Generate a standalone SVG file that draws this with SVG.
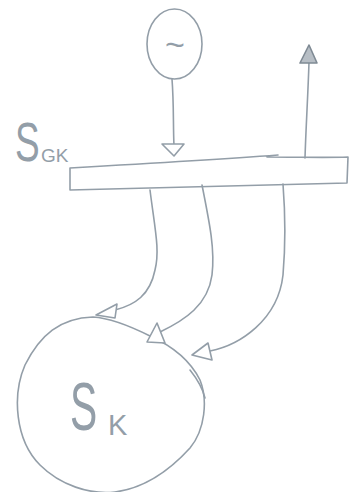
<svg xmlns="http://www.w3.org/2000/svg" width="360" height="492" viewBox="0 0 360 492">
<style>
.p{fill:none;stroke:#939ea8;stroke-width:1.6;stroke-linecap:round;stroke-linejoin:round}
.h{fill:#fff;stroke:#939ea8;stroke-width:1.6;stroke-linejoin:round}
.t{fill:#939ea8;font-family:"Liberation Sans",Arial,sans-serif}
</style>
<rect width="360" height="492" fill="#fff"/>
<g id="source">
<ellipse class="p" cx="174.5" cy="44" rx="27.5" ry="35"/>
<text class="t" x="175" y="56" font-size="34" text-anchor="middle">~</text>
</g>
<g id="sgk">
<path class="p" d="M70,168 C140,164 210,160 278,155 M267,157 C300,157 325,158 348,157 L347,183 C260,185 170,188 70,190 L70,168"/>
<text class="t" x="15" y="161" font-size="56" transform="translate(15 0) scale(0.66 1) translate(-15 0)">S</text>
<text class="t" x="41" y="162" font-size="19">GK</text>
</g>
<g id="sk">
<path class="p" d="M93,317 C60,318 40,335 25,365 C12,395 15,440 40,465 C60,485 90,495 115,492 C145,488 170,470 190,448 C205,430 208,400 200,380 C190,360 170,345 150,336 C130,326 110,318 93,317 Z"/>
<path class="p" d="M190,370 C198,380 203,390 205,398"/>
<text class="t" x="70" y="430" font-size="68" transform="translate(70 0) scale(0.6 1) translate(-70 0)">S</text>
<text class="t" x="108" y="435" font-size="29">K</text>
</g>
<g id="connectors">
<path class="p" d="M172,79 C174,105 173,125 174,146"/>
<polygon class="h" points="162,144 184,144 174,156"/>
<path class="p" d="M305,158 C306,125 308,95 309,62"/>
<polygon points="300,63 317,63 309,45" fill="#b7bec5" stroke="#7f8a94" stroke-width="1.6" stroke-linejoin="round"/>
<path class="p" d="M150,190 C155,230 160,250 155,270 C150,295 135,305 115,310"/>
<polygon class="h" points="96,315 117,304 115,318"/>
<path class="p" d="M202,185 C210,225 215,250 212,275 C208,305 185,320 160,332"/>
<polygon class="h" points="147,342 157,323 165,343"/>
<path class="p" d="M283,184 C285,210 286,240 283,275 C278,320 240,345 210,351"/>
<polygon class="h" points="192,355 208,343 212,360"/>
</g>
</svg>
